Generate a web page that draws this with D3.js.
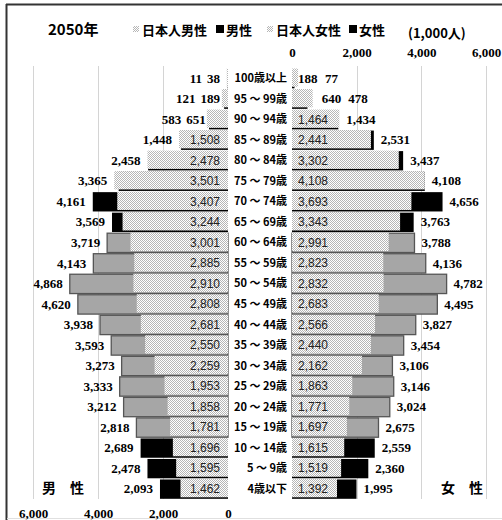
<!DOCTYPE html>
<html>
<head>
<meta charset="utf-8">
<script src="https://cdn.jsdelivr.net/npm/d3@7"></script>
<style>
  html, body { margin: 0; padding: 0; background: #fff; }
  svg { display: block; }
</style>
</head>
<body>
<script>
// ---------- data (top row = oldest) ----------
const ageGroups = ["100歳以上","95 ～ 99歳","90 ～ 94歳","85 ～ 89歳","80 ～ 84歳","75 ～ 79歳","70 ～ 74歳","65 ～ 69歳","60 ～ 64歳","55 ～ 59歳","50 ～ 54歳","45 ～ 49歳","40 ～ 44歳","35 ～ 39歳","30 ～ 34歳","25 ～ 29歳","20 ～ 24歳","15 ～ 19歳","10 ～ 14歳","5 ～ 9歳","4歳以下"];
const maleTotal      = [11,121,583,1448,2458,3365,4161,3569,3719,4143,4868,4620,3938,3593,3273,3333,3212,2818,2689,2478,2093];
const maleJapanese   = [38,189,651,1508,2478,3501,3407,3244,3001,2885,2910,2808,2681,2550,2259,1953,1858,1781,1696,1595,1462];
const femaleTotal    = [77,478,1434,2531,3437,4108,4656,3763,3788,4136,4782,4495,3827,3454,3106,3146,3024,2675,2559,2360,1995];
const femaleJapanese = [188,640,1464,2441,3302,4108,3693,3343,2991,2823,2832,2683,2566,2440,2162,1863,1771,1697,1615,1519,1392];
const workingAge     = ["60 ～ 64歳","55 ～ 59歳","50 ～ 54歳","45 ～ 49歳","40 ～ 44歳","35 ～ 39歳","30 ～ 34歳","25 ～ 29歳","20 ～ 24歳","15 ～ 19歳"];
const axisTicks      = [0, 2000, 4000, 6000];
const titleText = "2050年";
const unitText = "(1,000人)";
const legendItems = ["日本人男性","男性","日本人女性","女性"];

// ---------- layout ----------
const W = 502, H = 520;
const numFont = "'Liberation Serif', serif";
const cjkFont = "'Noto Sans CJK JP', sans-serif";
const inFont  = "'Liberation Sans', Arial, sans-serif";

const svg = d3.select("body").append("svg").attr("width", W).attr("height", H);

const defs = svg.append("defs");
const pat = defs.append("pattern").attr("id","dots").attr("patternUnits","userSpaceOnUse")
  .attr("width",2).attr("height",2);
pat.append("rect").attr("width",2).attr("height",2).attr("fill","#ffffff");
pat.append("rect").attr("x",0).attr("y",0).attr("width",1).attr("height",1).attr("fill","#b6b6b6");
pat.append("rect").attr("x",1).attr("y",1).attr("width",1).attr("height",1).attr("fill","#b6b6b6");

// frame
svg.append("line").attr("x1",6).attr("x2",W).attr("y1",4.5).attr("y2",4.5).attr("stroke","#333").attr("stroke-width",2);
svg.append("line").attr("x1",6.5).attr("x2",6.5).attr("y1",4).attr("y2",H).attr("stroke","#333").attr("stroke-width",2);
svg.append("line").attr("x1",7).attr("x2",W).attr("y1",518.5).attr("y2",518.5).attr("stroke","#e0e0e0").attr("stroke-width",1);

// scales
const y = d3.scaleBand().domain(ageGroups).range([68, 499]).padding(0);
const xM = d3.scaleLinear().domain([0, 6000]).range([228, 33]);
const xF = d3.scaleLinear().domain([0, 6000]).range([292, 486]);

// gridlines
const grid = svg.append("g").attr("stroke","#d4d4d4").attr("stroke-width",1);
axisTicks.filter(d => d > 0).forEach(t => {
  grid.append("line").attr("x1", Math.round(xM(t))+0.5).attr("x2", Math.round(xM(t))+0.5).attr("y1",66).attr("y2",499);
  grid.append("line").attr("x1", Math.round(xF(t))+0.5).attr("x2", Math.round(xF(t))+0.5).attr("y1",66).attr("y2",499);
});

// axes
const fmt = d3.format(",");
const axM = svg.append("g").attr("transform","translate(0,513)")
  .call(d3.axisBottom(xM).tickValues(axisTicks).tickFormat(fmt).tickSize(0));
const axF = svg.append("g").attr("transform","translate(0,52)")
  .call(d3.axisTop(xF).tickValues(axisTicks).tickFormat(fmt).tickSize(0));
[axM, axF].forEach(a => {
  a.select(".domain").remove();
  a.selectAll("text").attr("y",0).attr("dy","0.35em")
    .attr("font-family",numFont).attr("font-weight","bold").attr("font-size",13).attr("fill","#000");
});

const rows = ageGroups.map((a, i) => ({
  age: a, i,
  mt: maleTotal[i], mj: maleJapanese[i], ft: femaleTotal[i], fj: femaleJapanese[i],
  gray: workingAge.includes(a)
}));
const bw = y.bandwidth();

// total bars (behind)
const totalFill = d => d.gray ? "#a6a6a6" : "#000";
const totalStroke = d => d.gray ? "#555" : "#000";
svg.append("g").selectAll("rect").data(rows).join("rect")
  .attr("x", d => xM(d.mt)).attr("width", d => xM(0) - xM(d.mt))
  .attr("y", d => y(d.age) + 1).attr("height", bw - 1.2)
  .attr("fill", totalFill).attr("stroke", totalStroke).attr("stroke-width", d => d.gray ? 1.3 : 0);
svg.append("g").selectAll("rect").data(rows).join("rect")
  .attr("x", xF(0)).attr("width", d => xF(d.ft) - xF(0))
  .attr("y", d => y(d.age) + 1).attr("height", bw - 1.2)
  .attr("fill", totalFill).attr("stroke", totalStroke).attr("stroke-width", d => d.gray ? 1.3 : 0);

// Japanese bars (dotted, front)
svg.append("g").selectAll("rect").data(rows).join("rect")
  .attr("x", d => xM(d.mj)).attr("width", d => xM(0) - xM(d.mj))
  .attr("y", d => y(d.age) + 0.5).attr("height", bw - 2.2)
  .attr("fill","url(#dots)");
svg.append("g").selectAll("rect").data(rows).join("rect")
  .attr("x", xF(0)).attr("width", d => xF(d.fj) - xF(0))
  .attr("y", d => y(d.age) + 0.5).attr("height", bw - 2.2)
  .attr("fill","url(#dots)");

// age labels
svg.append("g").selectAll("text").data(rows).join("text")
  .attr("x", 287).attr("y", d => y(d.age) + bw/2).attr("dy","0.36em")
  .attr("text-anchor","end").attr("font-family",cjkFont).attr("font-weight","bold").attr("font-size",11)
  .text(d => d.age);

// Japanese labels: inside base, except where Excel moved them outside the short bar
const mjLabels = svg.append("g").selectAll("text").data(rows).join("text")
  .attr("x", d => d.i === 2 ? xM(d.mj) - 1 : 220)
  .attr("y", d => y(d.age) + bw/2).attr("dy","0.35em").attr("text-anchor","end")
  .attr("font-family", d => d.i <= 2 ? numFont : inFont)
  .attr("font-weight", d => d.i <= 2 ? "bold" : "normal")
  .attr("font-size", d => d.i <= 2 ? 13 : 12).attr("fill", d => d.i <= 2 ? "#000" : "#222")
  .text(d => fmt(d.mj));
const fjLabels = svg.append("g").selectAll("text").data(rows).join("text")
  .attr("x", d => d.i === 1 ? xF(d.fj) + 9 : 298)
  .attr("y", d => y(d.age) + bw/2).attr("dy","0.35em").attr("text-anchor","start")
  .attr("font-family", d => d.i <= 1 ? numFont : inFont)
  .attr("font-weight", d => d.i <= 1 ? "bold" : "normal")
  .attr("font-size", d => d.i <= 1 ? 13 : 12).attr("fill", d => d.i <= 1 ? "#000" : "#222")
  .text(d => fmt(d.fj));

// total labels (outside end)
const mjNodes = mjLabels.nodes(), fjNodes = fjLabels.nodes();
svg.append("g").selectAll("text").data(rows).join("text")
  .attr("x", d => {
    const jl = mjNodes[d.i].getBBox().x;
    return Math.min(xM(Math.max(d.mt, d.mj)) - 7, jl - 5);
  })
  .attr("y", d => y(d.age) + bw/2).attr("dy","0.35em").attr("text-anchor","end")
  .attr("font-family",numFont).attr("font-weight","bold").attr("font-size",13)
  .text(d => fmt(d.mt));
svg.append("g").selectAll("text").data(rows).join("text")
  .attr("x", d => {
    const b = fjNodes[d.i].getBBox();
    return Math.max(xF(Math.max(d.ft, d.fj)) + 7, b.x + b.width + 7);
  })
  .attr("y", d => y(d.age) + bw/2).attr("dy","0.35em").attr("text-anchor","start")
  .attr("font-family",numFont).attr("font-weight","bold").attr("font-size",13)
  .text(d => fmt(d.ft));

// title, legend, unit
svg.append("text").attr("x",48).attr("y",35).attr("font-family",cjkFont).attr("font-weight","bold")
  .attr("font-size",15).text(titleText);

const lg = svg.append("g").attr("font-family",cjkFont).attr("font-weight","bold").attr("font-size",13);
const legendX = [142, 226, 276, 359];
legendItems.forEach((t, k) => {
  const dotted = k % 2 === 0;
  const sx = legendX[k] - (dotted ? 9 : 10);
  lg.append("rect").attr("x", sx).attr("y", dotted ? 26 : 25).attr("width", dotted ? 6 : 8).attr("height", dotted ? 6 : 8)
    .attr("fill", dotted ? "url(#dots)" : "#000");
  lg.append("text").attr("x", legendX[k]).attr("y", 35).text(t);
});

svg.append("text").attr("x",408).attr("y",38).attr("font-family",cjkFont).attr("font-weight","bold")
  .attr("font-size",13).text(unitText);

svg.append("text").attr("x",42).attr("y",493).attr("font-family",cjkFont).attr("font-weight","bold")
  .attr("font-size",14).text("男　性");
svg.append("text").attr("x",441).attr("y",493).attr("font-family",cjkFont).attr("font-weight","bold")
  .attr("font-size",14).text("女　性");
</script>
</body>
</html>
